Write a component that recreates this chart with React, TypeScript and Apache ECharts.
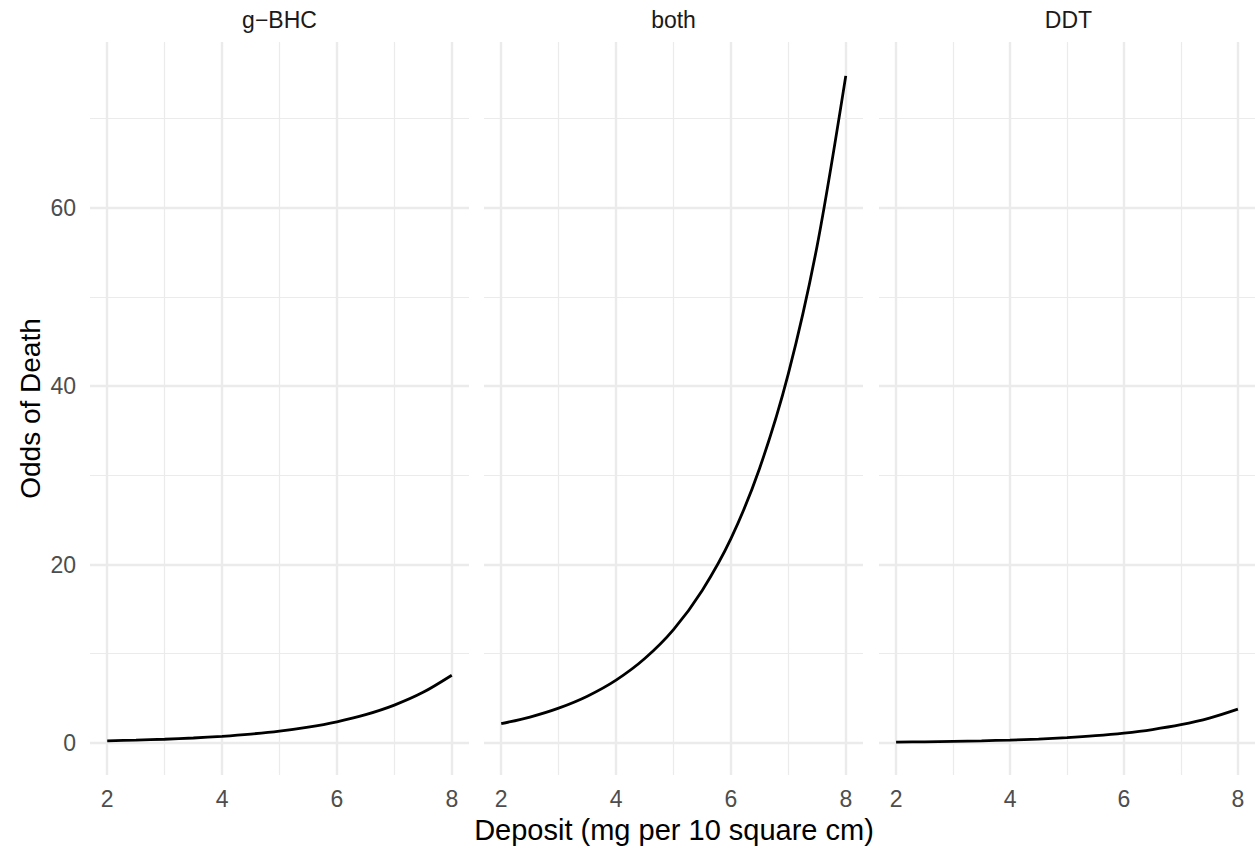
import { useEffect, useRef } from "react";
import * as echarts from "echarts";

const panels = ["g−BHC", "both", "DDT"];
const deposit = [2, 2.5, 3, 3.5, 4, 4.5, 5, 5.5, 6, 6.5, 7, 7.5, 8];
const oddsGBHC = [0.23, 0.31, 0.41, 0.55, 0.74, 0.99, 1.32, 1.77, 2.37, 3.17, 4.24, 5.67, 7.59];
const oddsBoth = [2.16, 2.9, 3.9, 5.24, 7.04, 9.46, 12.7, 17.1, 22.9, 30.8, 41.4, 55.7, 74.8];
const oddsDDT = [0.092, 0.125, 0.171, 0.233, 0.318, 0.433, 0.59, 0.805, 1.1, 1.5, 2.04, 2.78, 3.79];
const seriesValues = [oddsGBHC, oddsBoth, oddsDDT];
const xMajorTicks = [2, 4, 6, 8];
const xMinorTicks = [3, 5, 7];
const yMajorTicks = [0, 20, 40, 60];
const yMinorTicks = [10, 30, 50, 70];

const FONT = "'Liberation Sans', Arial, Helvetica, sans-serif";
const panelLefts = [90, 484, 879];
const panelWidth = 379;
const panelTop = 42;
const panelHeight = 733;
const xMin = 1.7;
const xMax = 8.3;
const yMin = -3.6;
const yMax = 78.6;

export default function App() {
  const ref = useRef<HTMLDivElement>(null);
  useEffect(() => {
    if (!ref.current) return;
    const chart = echarts.init(ref.current, null, { renderer: "svg" });
    const grid: any[] = [];
    const xAxis: any[] = [];
    const yAxis: any[] = [];
    const series: any[] = [];
    const graphic: any[] = [];
    panels.forEach((name, i) => {
      grid.push({ left: panelLefts[i], top: panelTop, width: panelWidth, height: panelHeight, containLabel: false });
      xAxis.push({
        gridIndex: i, type: "value", min: xMin, max: xMax, position: "bottom",
        axisLine: { show: false },
        axisTick: { show: false, customValues: xMajorTicks },
        axisLabel: { customValues: xMajorTicks, color: "#4D4D4D", fontSize: 23, fontFamily: FONT, margin: 12 },
        splitLine: { show: true, lineStyle: { color: "#EBEBEB", width: 2.4 } },
      });
      xAxis.push({
        gridIndex: i, type: "value", min: xMin, max: xMax, position: "top",
        axisLine: { show: false },
        axisTick: { show: false, customValues: xMinorTicks },
        axisLabel: { show: false, customValues: xMinorTicks },
        splitLine: { show: true, lineStyle: { color: "#EBEBEB", width: 1.2 } },
      });
      yAxis.push({
        gridIndex: i, type: "value", min: yMin, max: yMax, position: "left",
        axisLine: { show: false },
        axisTick: { show: false, customValues: yMajorTicks },
        axisLabel: { show: i === 0, customValues: yMajorTicks, color: "#4D4D4D", fontSize: 23, fontFamily: FONT, margin: 14 },
        splitLine: { show: true, lineStyle: { color: "#EBEBEB", width: 2.4 } },
      });
      yAxis.push({
        gridIndex: i, type: "value", min: yMin, max: yMax, position: "right",
        axisLine: { show: false },
        axisTick: { show: false, customValues: yMinorTicks },
        axisLabel: { show: false, customValues: yMinorTicks },
        splitLine: { show: true, lineStyle: { color: "#EBEBEB", width: 1.2 } },
      });
      series.push({
        type: "line",
        xAxisIndex: 2 * i,
        yAxisIndex: 2 * i,
        data: deposit.map((x, j) => [x, seriesValues[i][j]]),
        showSymbol: false,
        smooth: 0.3,
        lineStyle: { color: "#000000", width: 2.8 },
        z: 5,
      });
      graphic.push({
        type: "text",
        x: panelLefts[i] + panelWidth / 2,
        y: 20,
        style: { text: name, fill: "#1A1A1A", fontSize: 23, fontFamily: FONT, align: "center", verticalAlign: "middle" },
      });
    });
    graphic.push({
      type: "text",
      x: (panelLefts[0] + panelLefts[2] + panelWidth) / 2,
      y: 830,
      style: { text: "Deposit (mg per 10 square cm)", fill: "#000000", fontSize: 29, fontFamily: FONT, align: "center", verticalAlign: "middle" },
    });
    graphic.push({
      type: "text",
      x: 30,
      y: panelTop + panelHeight / 2,
      rotation: Math.PI / 2,
      style: { text: "Odds of Death", fill: "#000000", fontSize: 28, fontFamily: FONT, align: "center", verticalAlign: "middle" },
    });
    chart.setOption({
      animation: false,
      backgroundColor: "#FFFFFF",
      grid,
      xAxis,
      yAxis,
      series,
      graphic,
    });
    return () => chart.dispose();
  }, []);
  return <div ref={ref} style={{ position: "fixed", left: 0, top: 0, width: 1255, height: 850 }} />;
}
